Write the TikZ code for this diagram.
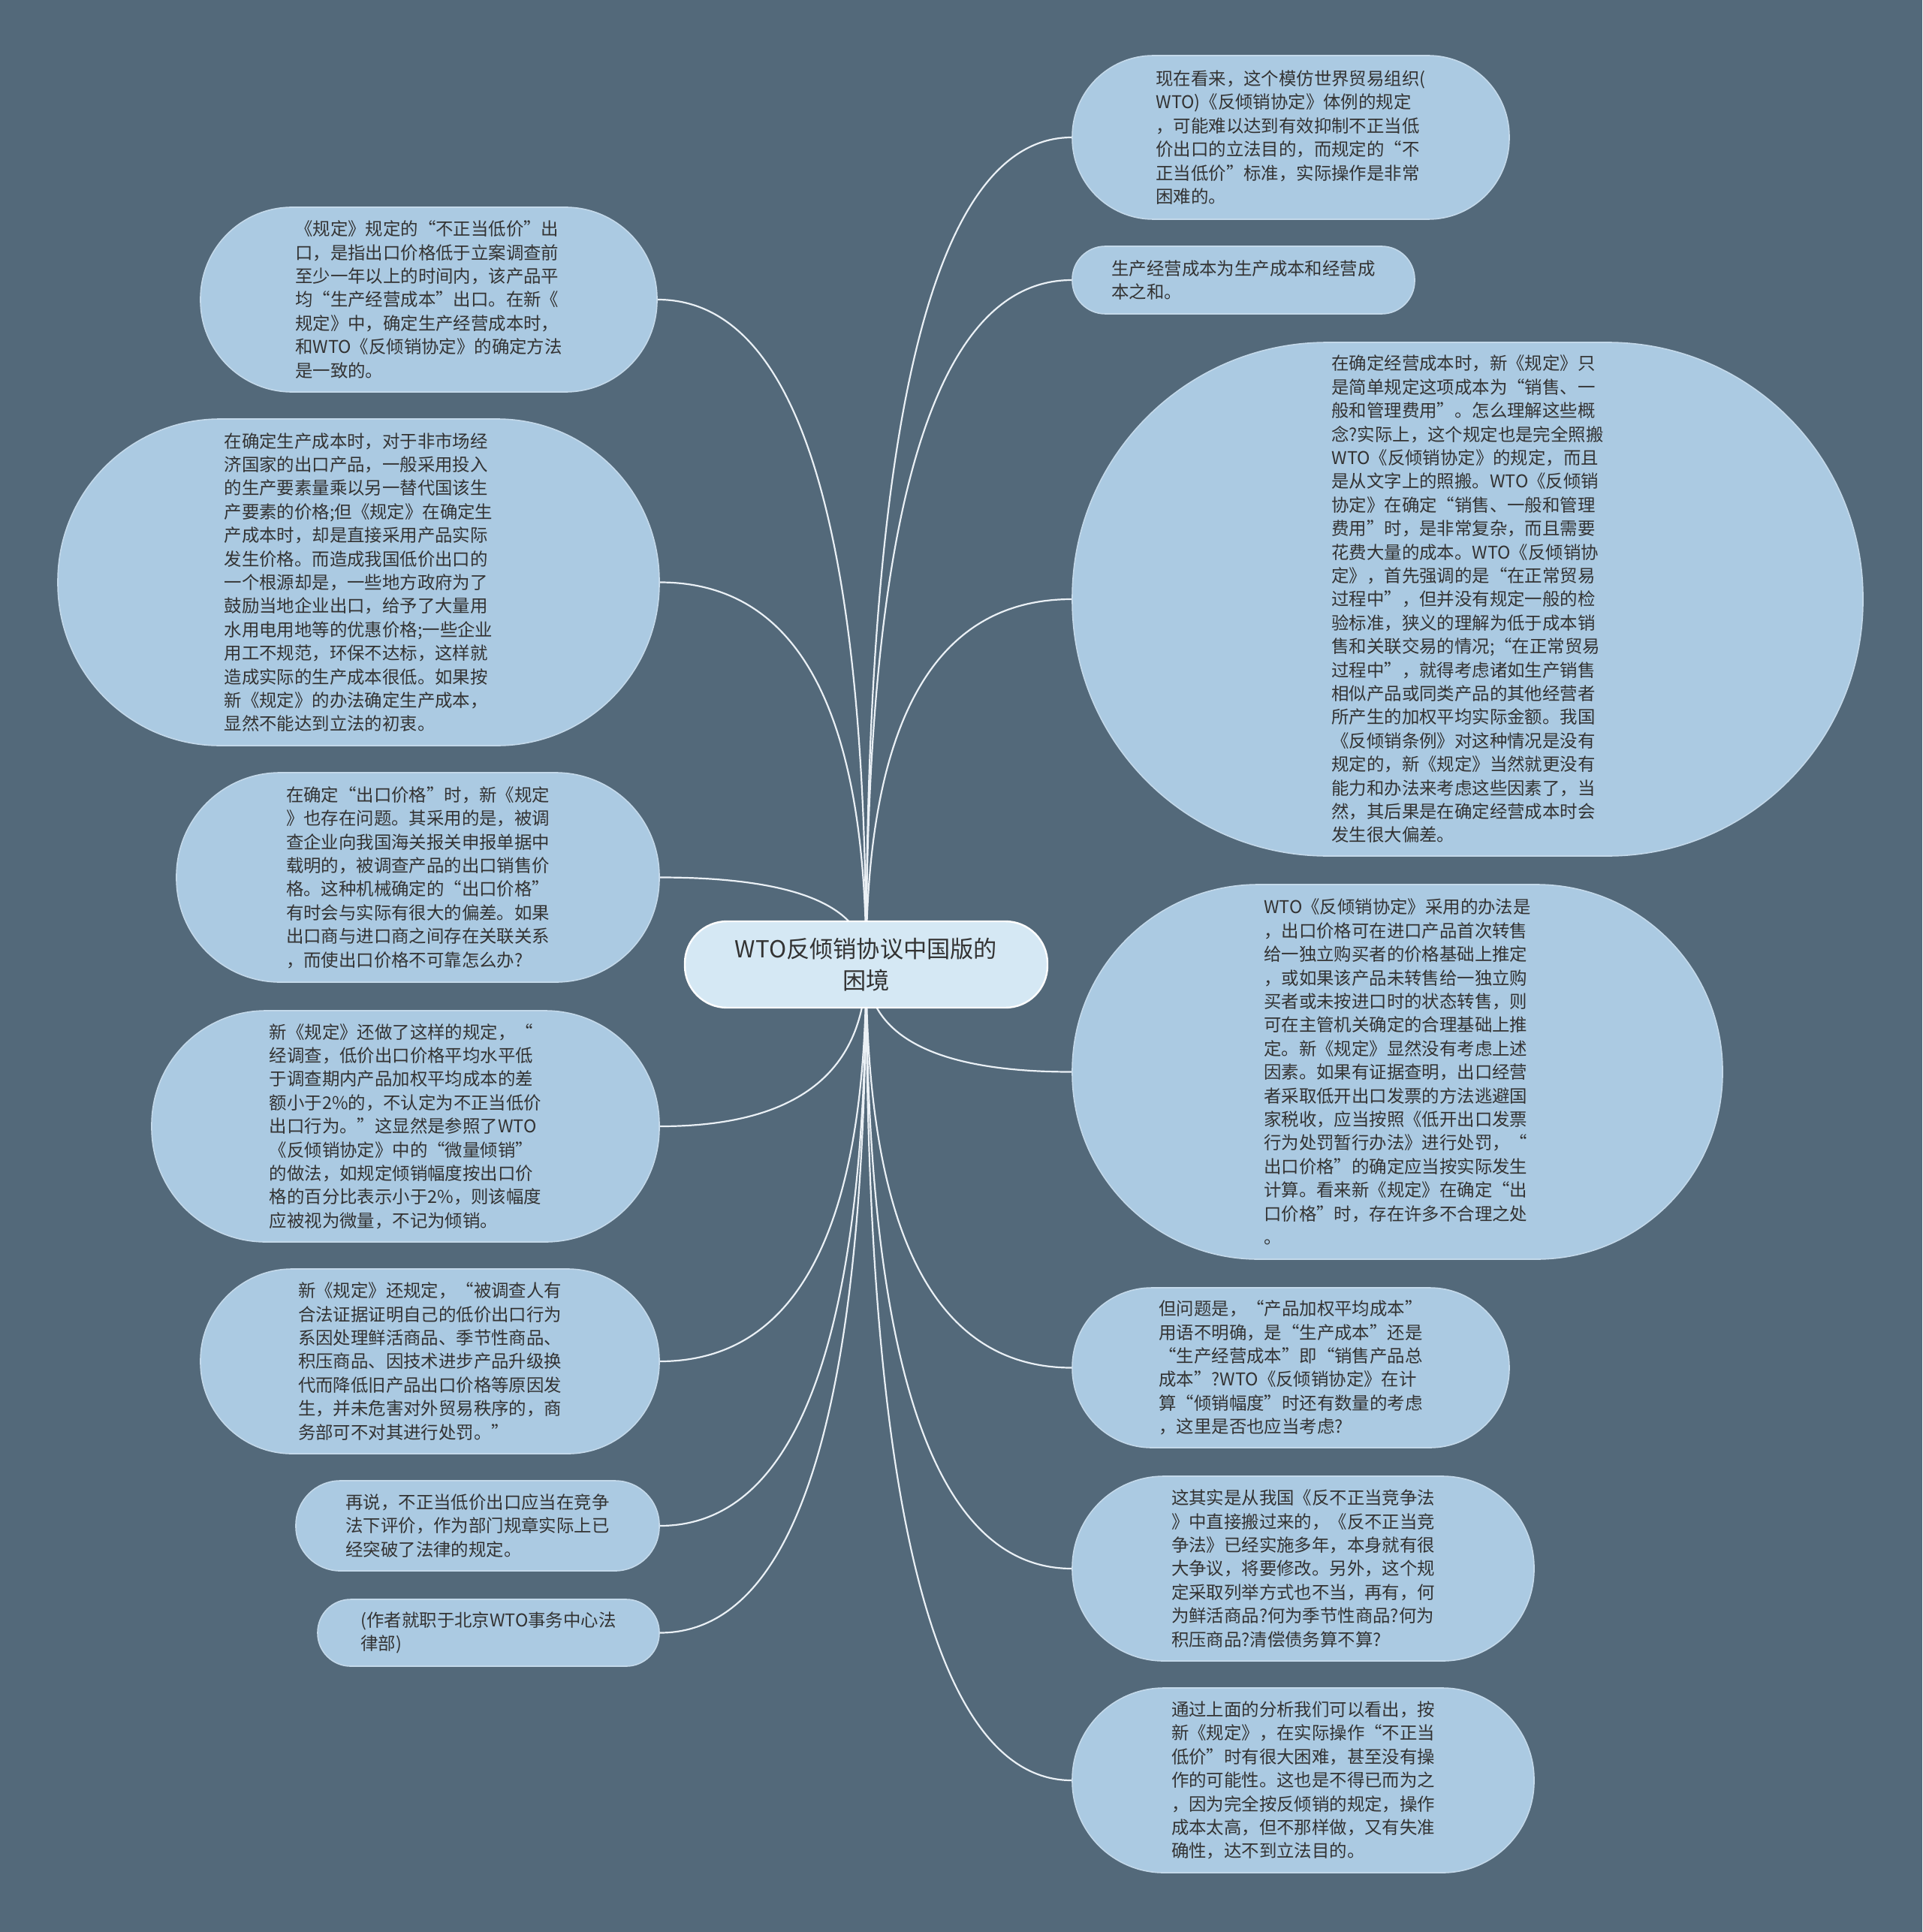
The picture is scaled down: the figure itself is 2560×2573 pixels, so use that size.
\documentclass[tikz,border=0pt]{standalone}
\usepackage{fontspec}
\setmainfont{Noto Sans CJK SC}
\usetikzlibrary{calc,backgrounds}
\definecolor{bgc}{HTML}{53697A}
\definecolor{bubfill}{HTML}{ABCAE2}
\definecolor{bubline}{HTML}{C4D9EA}
\definecolor{rootfill}{HTML}{D5E8F4}
\definecolor{txt}{HTML}{333333}
\definecolor{conn}{HTML}{EAF0F5}
\tikzset{
 bub/.style={draw=bubline, fill=bubfill, line width=0.8pt, align=left, inner sep=0pt, text=txt, font=\fontsize{11.7}{15.7}\selectfont},
 link/.style={draw=conn, line width=1.1pt},
}
\newcommand{\lk}[2]{\draw[link] (#1.center) .. controls ($(#1.center)!0.6667!(#1.center |- #2)$) and ($(#2)!0.6667!(#1.center |- #2)$) .. (#2);}
\begin{document}
\begin{tikzpicture}[x=0.5pt,y=-0.5pt]
\useasboundingbox (0,0) rectangle (2560,2573);
\begin{pgfonlayer}{background}
\fill[bgc] (0,0) rectangle (2560,2573);
\end{pgfonlayer}

\node[draw=white, fill=rootfill, line width=1.2pt, rounded corners=28pt, minimum width=241.5pt, minimum height=57.5pt, align=center, text=txt, font=\fontsize{15.6}{21}\selectfont, inner sep=0pt] (root) at (1153.5,1284.5) {WTO反倾销协议中国版的\\困境};

\node[bub, minimum width=291pt, minimum height=109pt, rounded corners=54pt] (r1) at (1719,183) {现在看来，这个模仿世界贸易组织(\\
WTO)《反倾销协定》体例的规定\\
，可能难以达到有效抑制不正当低\\
价出口的立法目的，而规定的“不\\
正当低价”标准，实际操作是非常\\
困难的。};

\node[bub, minimum width=228pt, minimum height=45pt, rounded corners=22pt] (r2) at (1656,373) {生产经营成本为生产成本和经营成\\
本之和。};

\node[bub, minimum width=526.5pt, minimum height=342pt, rounded corners=170pt] (r3) at (1954.5,798) {在确定经营成本时，新《规定》只\\
是简单规定这项成本为“销售、一\\
般和管理费用”。怎么理解这些概\\
念?实际上，这个规定也是完全照搬\\
WTO《反倾销协定》的规定，而且\\
是从文字上的照搬。WTO《反倾销\\
协定》在确定“销售、一般和管理\\
费用”时，是非常复杂，而且需要\\
花费大量的成本。WTO《反倾销协\\
定》，首先强调的是“在正常贸易\\
过程中”，但并没有规定一般的检\\
验标准，狭义的理解为低于成本销\\
售和关联交易的情况;“在正常贸易\\
过程中”，就得考虑诸如生产销售\\
相似产品或同类产品的其他经营者\\
所产生的加权平均实际金额。我国\\
《反倾销条例》对这种情况是没有\\
规定的，新《规定》当然就更没有\\
能力和办法来考虑这些因素了，当\\
然，其后果是在确定经营成本时会\\
发生很大偏差。};

\node[bub, minimum width=433pt, minimum height=249.5pt, rounded corners=124pt] (r4) at (1861,1427.5) {WTO《反倾销协定》采用的办法是\\
，出口价格可在进口产品首次转售\\
给一独立购买者的价格基础上推定\\
，或如果该产品未转售给一独立购\\
买者或未按进口时的状态转售，则\\
可在主管机关确定的合理基础上推\\
定。新《规定》显然没有考虑上述\\
因素。如果有证据查明，出口经营\\
者采取低开出口发票的方法逃避国\\
家税收，应当按照《低开出口发票\\
行为处罚暂行办法》进行处罚，“\\
出口价格”的确定应当按实际发生\\
计算。看来新《规定》在确定“出\\
口价格”时，存在许多不合理之处\\
。};

\node[bub, minimum width=291pt, minimum height=106.5pt, rounded corners=53pt] (r5) at (1719,1821.5) {但问题是，“产品加权平均成本”\\
用语不明确，是“生产成本”还是\\
“生产经营成本”即“销售产品总\\
成本”?WTO《反倾销协定》在计\\
算“倾销幅度”时还有数量的考虑\\
，这里是否也应当考虑?};

\node[bub, minimum width=307.5pt, minimum height=123pt, rounded corners=61pt] (r6) at (1735.5,2089) {这其实是从我国《反不正当竞争法\\
》中直接搬过来的，《反不正当竞\\
争法》已经实施多年，本身就有很\\
大争议，将要修改。另外，这个规\\
定采取列举方式也不当，再有，何\\
为鲜活商品?何为季节性商品?何为\\
积压商品?清偿债务算不算?};

\node[bub, minimum width=307.5pt, minimum height=123pt, rounded corners=61pt] (r7) at (1735.5,2371) {通过上面的分析我们可以看出，按\\
新《规定》，在实际操作“不正当\\
低价”时有很大困难，甚至没有操\\
作的可能性。这也是不得已而为之\\
，因为完全按反倾销的规定，操作\\
成本太高，但不那样做，又有失准\\
确性，达不到立法目的。};

\node[bub, minimum width=304pt, minimum height=123pt, rounded corners=61pt] (l1) at (571,399) {《规定》规定的“不正当低价”出\\
口，是指出口价格低于立案调查前\\
至少一年以上的时间内，该产品平\\
均“生产经营成本”出口。在新《\\
规定》中，确定生产经营成本时，\\
和WTO《反倾销协定》的确定方法\\
是一致的。};

\node[bub, minimum width=400.5pt, minimum height=217.5pt, rounded corners=108pt] (l2) at (477.5,775.5) {在确定生产成本时，对于非市场经\\
济国家的出口产品，一般采用投入\\
的生产要素量乘以另一替代国该生\\
产要素的价格;但《规定》在确定生\\
产成本时，却是直接采用产品实际\\
发生价格。而造成我国低价出口的\\
一个根源却是，一些地方政府为了\\
鼓励当地企业出口，给予了大量用\\
水用电用地等的优惠价格;一些企业\\
用工不规范，环保不达标，这样就\\
造成实际的生产成本很低。如果按\\
新《规定》的办法确定生产成本，\\
显然不能达到立法的初衷。};

\node[bub, minimum width=321.5pt, minimum height=139.5pt, rounded corners=69pt] (l3) at (556.5,1168.5) {在确定“出口价格”时，新《规定\\
》也存在问题。其采用的是，被调\\
查企业向我国海关报关申报单据中\\
载明的，被调查产品的出口销售价\\
格。这种机械确定的“出口价格”\\
有时会与实际有很大的偏差。如果\\
出口商与进口商之间存在关联关系\\
，而使出口价格不可靠怎么办?};

\node[bub, minimum width=338pt, minimum height=154pt, rounded corners=76pt] (l4) at (540,1500) {新《规定》还做了这样的规定，“\\
经调查，低价出口价格平均水平低\\
于调查期内产品加权平均成本的差\\
额小于2\%的，不认定为不正当低价\\
出口行为。”这显然是参照了WTO\\
《反倾销协定》中的“微量倾销”\\
的做法，如规定倾销幅度按出口价\\
格的百分比表示小于2\%，则该幅度\\
应被视为微量，不记为倾销。};

\node[bub, minimum width=305.5pt, minimum height=123pt, rounded corners=61pt] (l5) at (572.5,1813) {新《规定》还规定，“被调查人有\\
合法证据证明自己的低价出口行为\\
系因处理鲜活商品、季节性商品、\\
积压商品、因技术进步产品升级换\\
代而降低旧产品出口价格等原因发\\
生，并未危害对外贸易秩序的，商\\
务部可不对其进行处罚。”};

\node[bub, minimum width=242pt, minimum height=60pt, rounded corners=29.5pt] (l6) at (636,2032) {再说，不正当低价出口应当在竞争\\
法下评价，作为部门规章实际上已\\
经突破了法律的规定。};

\node[bub, minimum width=227.5pt, minimum height=44.5pt, rounded corners=22pt] (l7) at (650.5,2174.5) {(作者就职于北京WTO事务中心法\\
律部)};

\begin{pgfonlayer}{background}
\lk{root}{r1.west}
\lk{root}{r2.west}
\lk{root}{r3.west}
\lk{root}{r4.west}
\lk{root}{r5.west}
\lk{root}{r6.west}
\lk{root}{r7.west}
\lk{root}{l1.east}
\lk{root}{l2.east}
\lk{root}{l3.east}
\lk{root}{l4.east}
\lk{root}{l5.east}
\lk{root}{l6.east}
\lk{root}{l7.east}
\end{pgfonlayer}
\end{tikzpicture}
\end{document}
